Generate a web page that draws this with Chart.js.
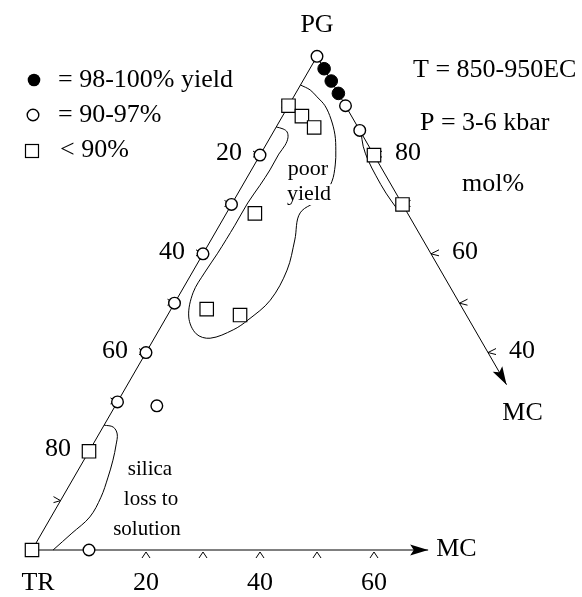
<!DOCTYPE html>
<html><head><meta charset="utf-8">
<script src="https://cdn.jsdelivr.net/npm/chart.js@4/dist/chart.umd.min.js"></script>
<style>html,body{margin:0;padding:0;background:#fff}#wrap{width:582px;height:597px;position:relative}</style>
</head><body><div id="wrap"><canvas id="c"></canvas></div>
<script>
// Compositions given as [PG, MC] in mol%; TR = 100 - PG - MC
const yield98to100 = [[97.5,2.5],[95,5],[92.5,7.5]];
const yield90to97 = [[100,0],[90,10],[85,15],[80,0],[70,0],[60,0],[50,0],[40,0],[30,0],[0,10],[29.2,7.3]];
const yieldBelow90 = [[80,20],[70,30],[90,0],[20,0],[0,0],[87.9,3.4],[85.6,6.7],[68.2,5.0],[48.8,6.25],[47.6,12.7]];

const poorYieldOutline = [[94.2,0],[93.2,2.2],[91.8,4.1],[90.0,6.4],[87.3,8.8],[84.1,11.1],[81.0,12.8],[78.0,14.2],[74.6,15.3],[71.3,15.2],[68.3,12.9],[62.8,14.7],[56.7,16.4],[50.6,16.5],[46.6,14.6],[44.6,13.0],[42.9,9.8],[43.8,6.9],[47.2,3.9],[52.1,2.2],[56.3,2.2],[60.0,2.5],[65.8,2.7],[70.3,2.7],[73.9,3.05],[77.0,3.25],[80.2,3.2],[82.0,3.4],[83.5,3.15],[84.7,2.4],[85.3,1.4],[85.7,0]];
const silicaLossOutline = [[25.3,0],[24.9,1.8],[23.5,3.2],[21.3,4.1],[18.2,5.1],[14.6,6.0],[10.7,6.75],[6.7,6.8],[3.4,5.3],[0,3.7]];
const rightEdgeOutline = [[84.5,15.5],[81.8,17.2],[79.0,19.45],[75.8,22.45],[72.3,25.95],[69.1,29.5]];

const leftEdge = [[0,0],[100,0]];          // TR -> PG
const rightEdge = [[100,0],[33.5,66.5]];   // PG -> MC (arrow)
const bottomEdge = [[0,0],[0,69.5]];       // TR -> MC (arrow)

const leftTicksTR = [10,20,30,40,50,60,70,80,90];
const leftLabelsTR = [20,40,60,80];
const rightTicksPG = [40,50,60,70,80];
const rightLabelsPG = [40,60,80];
const bottomTicksMC = [20,30,40,50,60];
const bottomLabelsMC = [20,40,60];

const SQ3 = Math.sqrt(3)/2;
const cart = ([pg, mc]) => ({x: mc + pg/2, y: pg*SQ3});
const S = 5.7, OX = 32, OY = 550, W = 582, H = 597;

const lineDS = (pts, tension) => ({data: pts.map(cart), showLine: true, pointRadius: 0, borderColor: '#000', borderWidth: 1, tension: tension, fill: false});

const FONT = '"Liberation Serif", "Times New Roman", serif';

const decor = {
  id: 'decor',
  beforeDatasetsDraw(chart){
    const ctx = chart.ctx, sx = chart.scales.x, sy = chart.scales.y;
    const P = c => { const p = cart(c); return [sx.getPixelForValue(p.x), sy.getPixelForValue(p.y)]; };
    ctx.save(); ctx.strokeStyle='#000'; ctx.lineWidth=1;
    leftTicksTR.forEach(t => { const [x,y] = P([100-t,0]); ctx.beginPath(); ctx.moveTo(x-7,y-4); ctx.lineTo(x,y); ctx.lineTo(x-7,y+2); ctx.stroke(); });
    rightTicksPG.forEach(t => { const [x,y] = P([t,100-t]); ctx.beginPath(); ctx.moveTo(x+8,y-4); ctx.lineTo(x,y); ctx.lineTo(x+8,y+2); ctx.stroke(); });
    bottomTicksMC.forEach(t => { const [x,y] = P([0,t]); ctx.beginPath(); ctx.moveTo(x-4,y+8); ctx.lineTo(x,y+2); ctx.lineTo(x+4,y+8); ctx.stroke(); });
    ctx.restore();
  },
  afterDatasetsDraw(chart){
    const ctx = chart.ctx, sx = chart.scales.x, sy = chart.scales.y;
    const P = c => { const p = cart(c); return [sx.getPixelForValue(p.x), sy.getPixelForValue(p.y)]; };
    ctx.save();
    const arrow = (from, to) => {
      const [x0,y0] = P(from), [x1,y1] = P(to);
      const a = Math.atan2(y1-y0, x1-x0), L = 18, w = 5.5;
      ctx.beginPath(); ctx.moveTo(x1,y1);
      ctx.lineTo(x1 - L*Math.cos(a) + w*Math.sin(a), y1 - L*Math.sin(a) - w*Math.cos(a));
      ctx.lineTo(x1 - L*0.8*Math.cos(a), y1 - L*0.8*Math.sin(a));
      ctx.lineTo(x1 - L*Math.cos(a) - w*Math.sin(a), y1 - L*Math.sin(a) + w*Math.cos(a));
      ctx.closePath(); ctx.fillStyle='#000'; ctx.fill();
    };
    arrow(rightEdge[0], rightEdge[1]);
    arrow(bottomEdge[0], bottomEdge[1]);

    ctx.fillStyle = '#000';
    ctx.textBaseline = 'alphabetic';
    const txt = (s, x, y, size, align, bg) => {
      ctx.font = size + 'px ' + FONT; ctx.textAlign = align || 'left';
      if (bg) {
        const w = ctx.measureText(s).width;
        const lx = align==='center' ? x - w/2 : (align==='right' ? x - w : x);
        ctx.fillStyle = '#fff'; ctx.fillRect(lx-1, y - size*0.72, w+2, size*0.95); ctx.fillStyle='#000';
      }
      ctx.fillText(s, x, y);
    };
    leftLabelsTR.forEach(t => { const [x,y] = P([100-t,0]); txt(String(t), x-18, y+5, 26, 'right'); });
    rightLabelsPG.forEach(t => { const [x,y] = P([t,100-t]); txt(String(t), x+21, y+5, 26, 'left'); });
    bottomLabelsMC.forEach(t => { const [x] = P([0,t]); txt(String(t), x, 590, 26, 'center'); });
    { const [x,y] = P([100,0]); txt('PG', x, y-24, 26, 'center'); }
    { const [x] = P([0,0]); txt('TR', x+6, 590, 26, 'center'); }
    { const [x,y] = P(rightEdge[1]); txt('MC', x+16, y+35, 26, 'center'); }
    { const [x,y] = P(bottomEdge[1]); txt('MC', x+8, y+6, 26, 'left'); }
    txt('T = 850-950EC', 413, 77, 26, 'left');
    txt('P = 3-6 kbar', 420, 130, 26, 'left');
    txt('mol%', 462, 191, 26, 'left');
    txt('poor', 308, 175, 22, 'center', true);
    txt('yield', 309, 200, 22, 'center', true);
    txt('silica', 150, 475, 21, 'center');
    txt('loss to', 151, 505, 21, 'center');
    txt('solution', 147, 535, 21, 'center');
    // legend symbols
    ctx.beginPath(); ctx.arc(34, 80, 6.3, 0, Math.PI*2); ctx.fillStyle='#000'; ctx.fill();
    ctx.beginPath(); ctx.arc(33, 115, 5.8, 0, Math.PI*2); ctx.fillStyle='#fff'; ctx.fill(); ctx.strokeStyle='#000'; ctx.lineWidth=1.4; ctx.stroke();
    ctx.fillStyle='#fff'; ctx.fillRect(25.5, 144.5, 13, 13); ctx.strokeStyle='#000'; ctx.lineWidth=1.2; ctx.strokeRect(25.5, 144.5, 13, 13);
    ctx.fillStyle='#000';
    txt('= 98-100% yield', 58, 87, 26, 'left');
    txt('= 90-97%', 58, 122, 26, 'left');
    txt('< 90%', 60, 157, 26, 'left');
    ctx.restore();
  }
};

new Chart(document.getElementById('c'), {
  type: 'scatter',
  data: { datasets: [
    {data: yield98to100.map(cart), pointStyle: 'circle', pointRadius: 6.3, backgroundColor: '#000', borderColor: '#000', borderWidth: 1},
    {data: yield90to97.map(cart), pointStyle: 'circle', pointRadius: 5.8, backgroundColor: '#fff', borderColor: '#000', borderWidth: 1.4},
    {data: yieldBelow90.map(cart), pointStyle: 'rect', pointRadius: 9.5, backgroundColor: '#fff', borderColor: '#000', borderWidth: 1.2},
    lineDS(leftEdge, 0),
    lineDS(rightEdge, 0),
    lineDS(bottomEdge, 0),
    lineDS(poorYieldOutline, 0.35),
    lineDS(silicaLossOutline, 0.35),
    lineDS(rightEdgeOutline, 0.35)
  ]},
  options: {
    responsive: true, maintainAspectRatio: false, animation: false,
    layout: { padding: 0, autoPadding: false },
    events: [],
    plugins: { legend: {display: false}, tooltip: {enabled: false} },
    scales: {
      x: {type: 'linear', display: false, min: -OX/S, max: (W-OX)/S},
      y: {type: 'linear', display: false, min: -(H-OY)/S, max: OY/S}
    }
  },
  plugins: [decor]
});
</script></body></html>
